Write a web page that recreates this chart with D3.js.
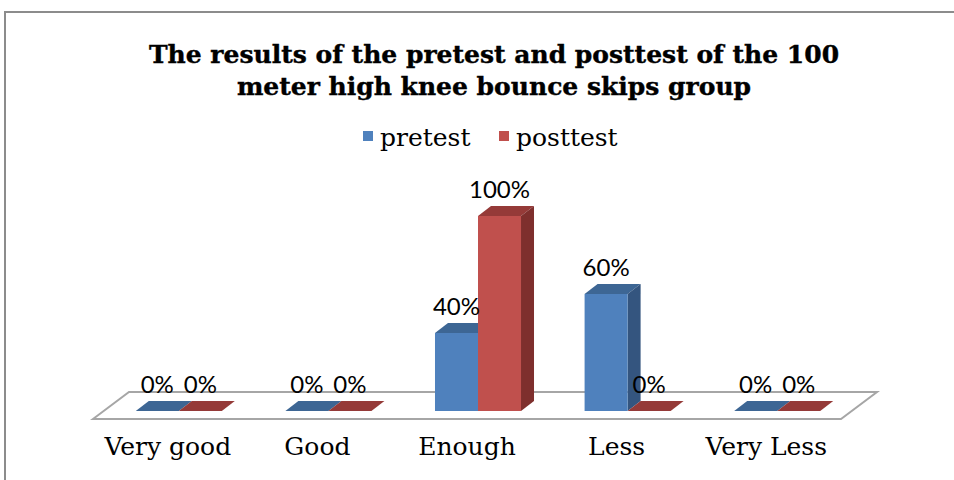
<!DOCTYPE html>
<html>
<head>
<meta charset="utf-8">
<script src="https://cdn.jsdelivr.net/npm/d3@7"></script>
<style>
  body { margin: 0; background: #fff; }
  svg { display: block; }
</style>
</head>
<body>
<div id="chart"></div>
<script>
// data
var categories = ["Very good", "Good", "Enough", "Less", "Very Less"];
var seriesNames = ["pretest", "posttest"];
var pretest = [0, 0, 0.4, 0.6, 0];
var posttest = [0, 0, 1.0, 0, 0];

var width = 954, height = 480;

var colors = {
  pretest: { front: "#4f81bd", top: "#3d6694", side: "#34557f" },
  posttest: { front: "#c0504d", top: "#953a38", side: "#7e2f2d" }
};

var svg = d3.select("#chart")
  .append("svg")
    .attr("width", width)
    .attr("height", height);

// outer border
svg.append("path")
  .attr("d", "M5," + height + " L5,12 L" + width + ",12")
  .attr("fill", "none")
  .attr("stroke", "#8c8c8c")
  .attr("stroke-width", 2);

// title
var title = svg.append("text")
  .attr("text-anchor", "middle")
  .style("font-family", "DejaVu Serif")
  .style("font-weight", "bold")
  .style("font-size", "25px")
  .attr("fill", "#000")
  .attr("stroke", "#000")
  .attr("stroke-width", 0.4);
title.append("tspan").attr("x", 494).attr("y", 63)
  .text("The results of the pretest and posttest of the 100");
title.append("tspan").attr("x", 494).attr("y", 95)
  .text("meter high knee bounce skips group");

// legend
var legendX = [363, 499];
seriesNames.forEach(function(s, i) {
  svg.append("rect")
    .attr("x", legendX[i]).attr("y", 131)
    .attr("width", 10).attr("height", 10)
    .attr("fill", colors[s].front);
  svg.append("text")
    .attr("x", legendX[i] + 17).attr("y", 146)
    .style("font-family", "DejaVu Serif")
    .style("font-size", "25px")
    .attr("fill", "#000")
    .text(s);
});

// floor geometry (front edge of the floor)
var floorLeft = 93, floorRight = 841, floorY = 419;
var depthX = 36, depthY = -27;     // full floor depth
var barShiftX = 11, barShiftY = -8; // where bar fronts sit
var barDX = 13, barDY = -10;        // depth of a bar

var x0 = d3.scaleBand()
  .domain(categories)
  .range([floorLeft, floorRight])
  .paddingInner(0.425)
  .paddingOuter(0.2125);

var x1 = d3.scaleBand()
  .domain(seriesNames)
  .range([0, x0.bandwidth()]);

var y = d3.scaleLinear()
  .domain([0, 1])
  .range([floorY + barShiftY, 216]);

// floor
svg.append("path")
  .attr("d", "M" + floorLeft + "," + floorY +
    " L" + (floorLeft + depthX) + "," + (floorY + depthY) +
    " L" + (floorRight + depthX) + "," + (floorY + depthY) +
    " L" + floorRight + "," + floorY + " Z")
  .attr("fill", "#fff")
  .attr("stroke", "#a6a6a6")
  .attr("stroke-width", 2);

// bars
var bars = [];
categories.forEach(function(c, i) {
  bars.push({ cat: c, series: "pretest", value: pretest[i] });
  bars.push({ cat: c, series: "posttest", value: posttest[i] });
});

function pts(arr) {
  return arr.map(function(p) { return p[0] + "," + p[1]; }).join(" ");
}

var g = svg.selectAll(".bar")
  .data(bars)
  .enter()
  .append("g")
    .attr("class", "bar");

g.each(function(d) {
  var el = d3.select(this);
  var xl = x0(d.cat) + x1(d.series) + barShiftX;
  var xr = xl + x1.bandwidth();
  var yb = y(0), yt = y(d.value);
  // top face
  el.append("polygon")
    .attr("points", pts([[xl, yt], [xl + barDX, yt + barDY], [xr + barDX, yt + barDY], [xr, yt]]))
    .attr("fill", colors[d.series].top);
  if (d.value > 0) {
    // side face
    el.append("polygon")
      .attr("points", pts([[xr, yt], [xr + barDX, yt + barDY], [xr + barDX, yb + barDY], [xr, yb]]))
      .attr("fill", colors[d.series].side);
    // front face
    el.append("rect")
      .attr("x", xl).attr("y", yt)
      .attr("width", x1.bandwidth()).attr("height", yb - yt)
      .attr("fill", colors[d.series].front);
  }
});

// data labels
svg.selectAll(".dlabel")
  .data(bars)
  .enter()
  .append("text")
    .attr("class", "dlabel")
    .attr("text-anchor", "middle")
    .attr("x", function(d) { return x0(d.cat) + x1(d.series) + barShiftX + x1.bandwidth() / 2; })
    .attr("y", function(d) { return y(d.value) - 18; })
    .style("font-family", "Lato")
    .style("font-size", "24px")
    .attr("fill", "#000")
    .text(function(d) { return d3.format(".0%")(d.value); });

// category labels
svg.selectAll(".xlabel")
  .data(categories)
  .enter()
  .append("text")
    .attr("class", "xlabel")
    .attr("text-anchor", "middle")
    .attr("x", function(d) { return x0(d) + x0.bandwidth() / 2; })
    .attr("y", 455)
    .style("font-family", "DejaVu Serif")
    .style("font-size", "25px")
    .attr("fill", "#000")
    .text(function(d) { return d; });
</script>
</body>
</html>
